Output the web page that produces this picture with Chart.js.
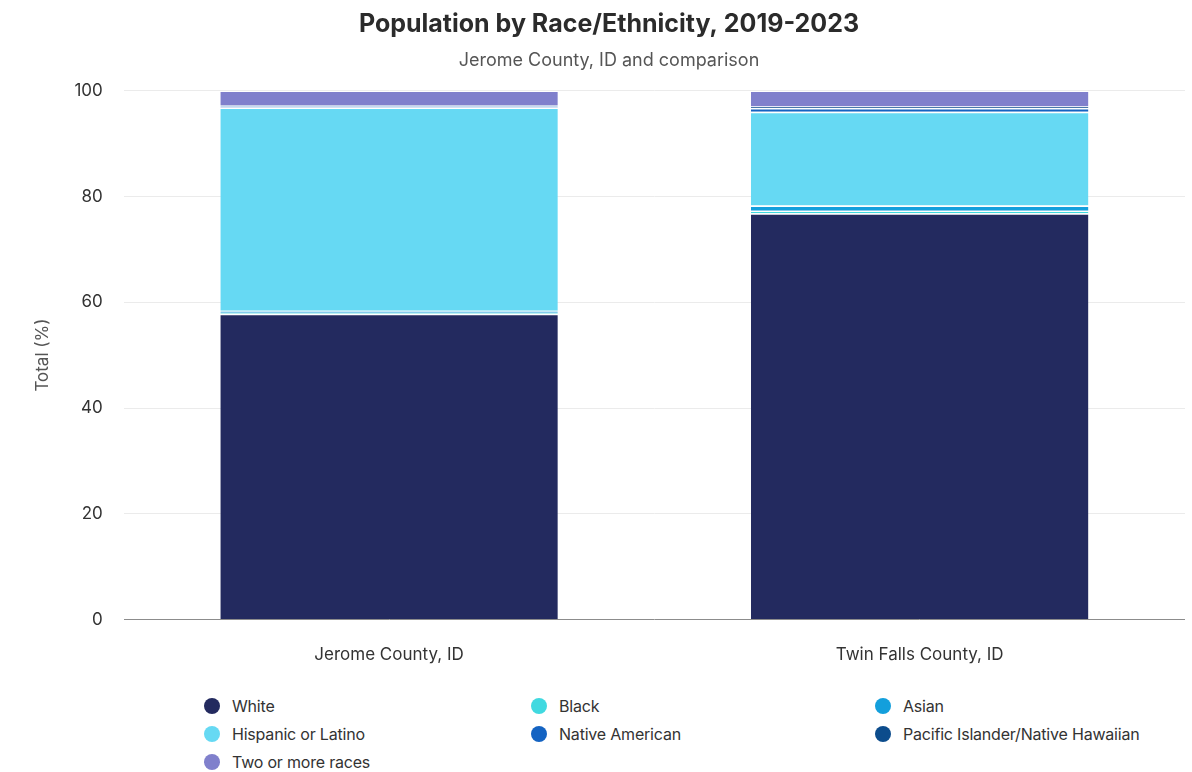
<!DOCTYPE html>
<html>
<head>
<meta charset="utf-8">
<script src="https://cdn.jsdelivr.net/npm/chart.js@4.4.1/dist/chart.umd.min.js"></script>
<style>
  html, body { margin: 0; padding: 0; background: #fff; }
  body { width: 1192px; height: 772px; position: relative; overflow: hidden; font-family: Inter, "Noto Sans", sans-serif; }
  #wrap { position: absolute; left: 0; top: 0; width: 1192px; height: 694px; }
  #legend { position: absolute; left: 204px; top: 696px; width: 980px; display: grid; grid-template-columns: 327px 344px 300px; row-gap: 8px; }
  .item { display: flex; align-items: center; font-size: 16px; color: #333; height: 20px; letter-spacing: -0.2px; }
  .dot { width: 16px; height: 16px; border-radius: 50%; margin-right: 12px; flex: none; }
</style>
</head>
<body>
<div id="wrap"><canvas id="raceChart"></canvas></div>
<div id="legend"></div>
<script>
const counties = ["Jerome County, ID", "Twin Falls County, ID"];

const white = [57.8, 76.8];
const black = [0.2, 0.5];
const asian = [0.4, 1.0];
const hispanic = [38.4, 17.7];
const nativeAmerican = [0.3, 0.7];
const pacificIslander = [0.1, 0.3];
const twoOrMore = [2.8, 3.0];

const yTicks = [0, 20, 40, 60, 80, 100];

const series = [
  ["White", white, "#232a5f"],
  ["Black", black, "#40d9e0"],
  ["Asian", asian, "#139fdc"],
  ["Hispanic or Latino", hispanic, "#66d9f3"],
  ["Native American", nativeAmerican, "#1463c2"],
  ["Pacific Islander/Native Hawaiian", pacificIslander, "#0c4c8c"],
  ["Two or more races", twoOrMore, "#8080cc"]
];

const datasets = series.map(([label, data, color]) => ({
  label,
  data,
  backgroundColor: color,
  borderColor: "#ffffff",
  borderWidth: { top: 1.5, bottom: 0, left: 0, right: 0 },
  borderSkipped: false,
  barPercentage: 0.636,
  categoryPercentage: 1
}));

new Chart(document.getElementById("raceChart"), {
  type: "bar",
  data: { labels: counties, datasets },
  options: {
    responsive: true,
    maintainAspectRatio: false,
    animation: false,
    layout: { padding: { top: 9, left: 33, right: 7, bottom: 12 } },
    plugins: {
      legend: { display: false },
      tooltip: { enabled: false },
      title: {
        display: true,
        text: "Population by Race/Ethnicity, 2019-2023",
        color: "#2b2b2b",
        font: { family: "Inter", size: 25, weight: "bold" },
        padding: { top: 0, bottom: 11 }
      },
      subtitle: {
        display: true,
        text: "Jerome County, ID and comparison",
        color: "#555",
        font: { family: "Inter", size: 18 },
        padding: { top: 0, bottom: 19 }
      }
    },
    scales: {
      x: {
        stacked: true,
        grid: { display: false },
        border: { display: false },
        ticks: { color: "#333", font: { family: "Inter", size: 17 }, padding: 17 }
      },
      y: {
        stacked: true,
        min: 0,
        max: 100,
        afterBuildTicks: (axis) => { axis.ticks = yTicks.map((v) => ({ value: v })); },
        grid: {
          color: (ctx) => (ctx.tick && ctx.tick.value === 0 ? "#8c8c8c" : "#ebebeb"),
          drawTicks: false,
          lineWidth: 1
        },
        border: { display: false },
        ticks: { color: "#333", font: { family: "Inter", size: 17 }, padding: 21 },
        title: {
          display: true,
          text: "Total (%)",
          color: "#555",
          font: { family: "Inter", size: 17 },
          padding: { top: 0, bottom: 0 }
        }
      }
    }
  }
});

// legend laid out in three columns under the chart
const legendBox = document.getElementById("legend");
legendBox.innerHTML = series
  .map(([label, , color]) => `<div class="item"><span class="dot" style="background:${color}"></span>${label}</div>`)
  .join("");
</script>
</body>
</html>
